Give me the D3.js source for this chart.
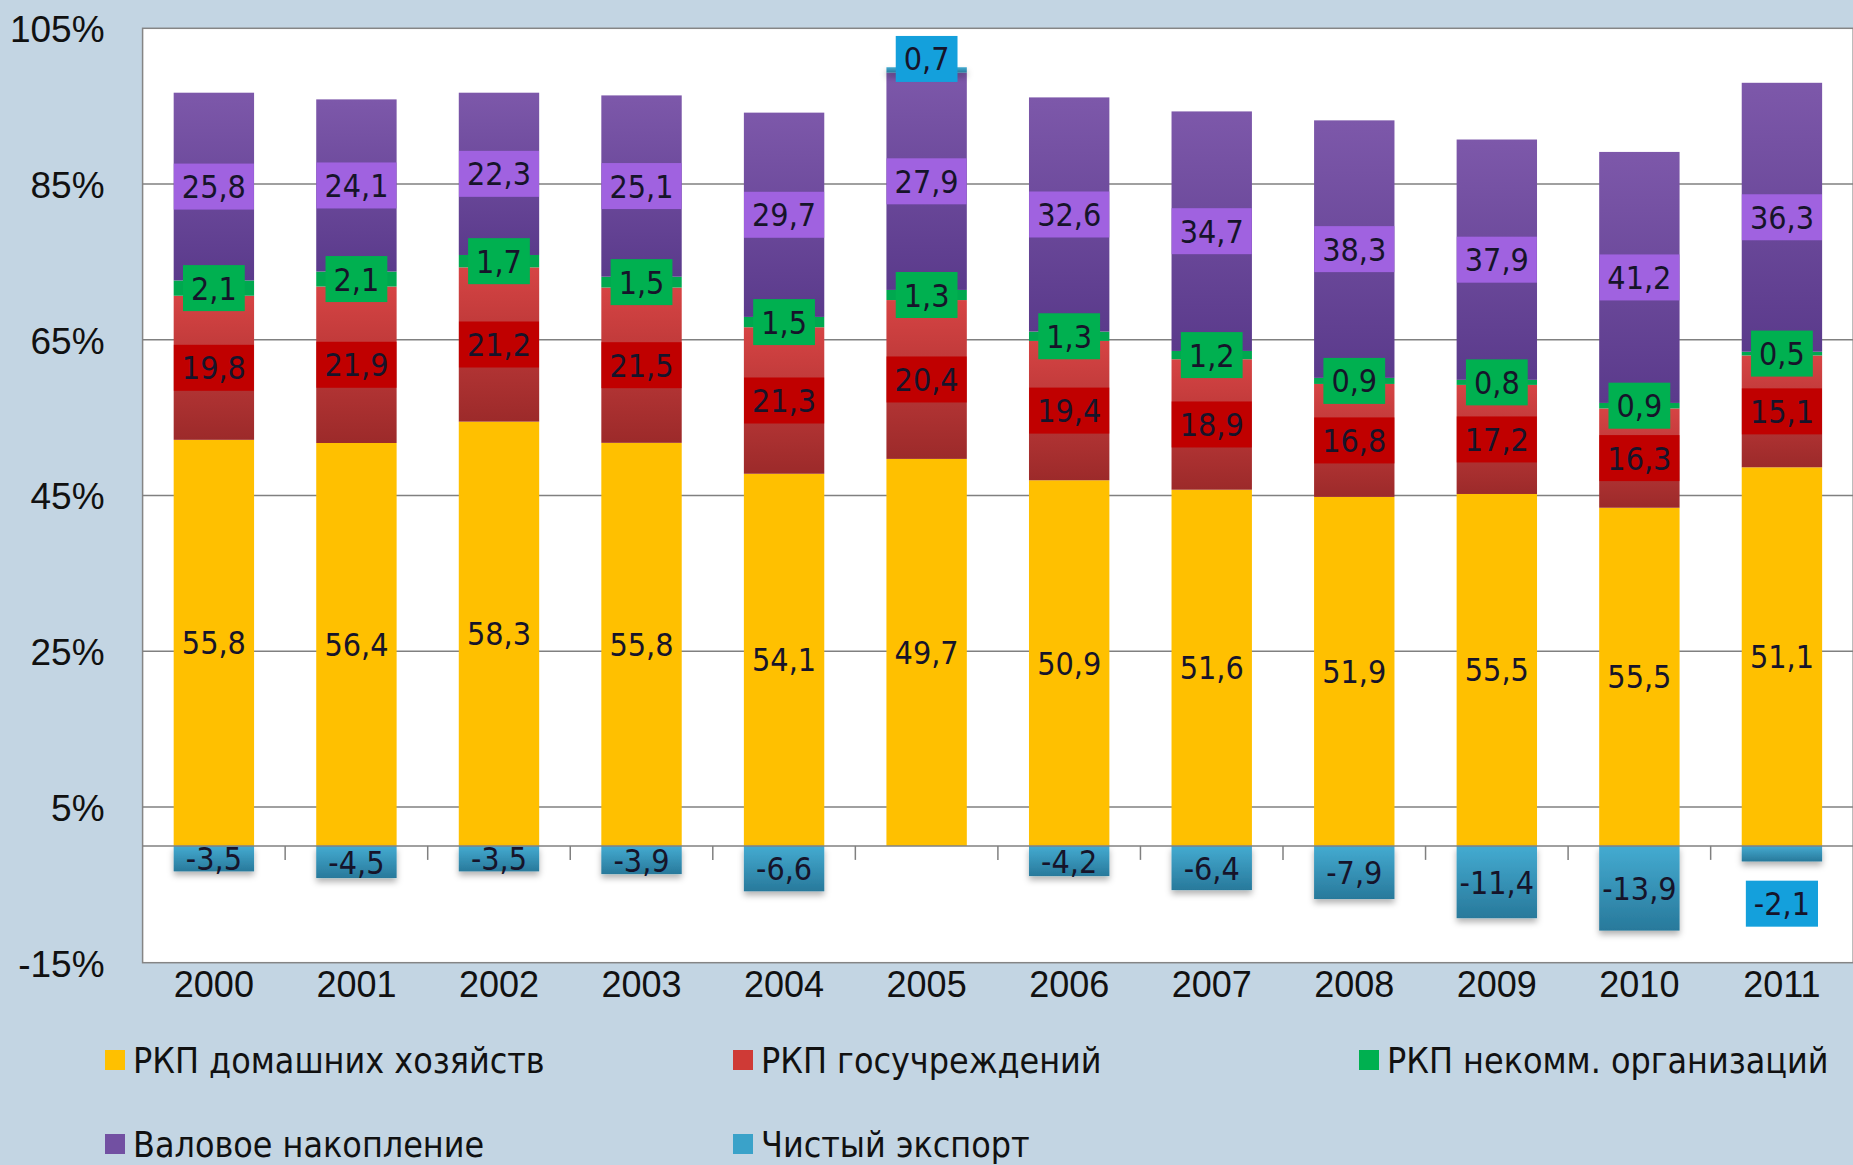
<!DOCTYPE html>
<html>
<head>
<meta charset="utf-8">
<script src="https://cdn.jsdelivr.net/npm/d3@7"></script>
<style>
  body { margin: 0; background: #c3d5e3; }
  svg { display: block; font-family: "DejaVu Sans Condensed", "DejaVu Sans", sans-serif; font-stretch: condensed; }
</style>
</head>
<body>
<svg id="chart" width="1853" height="1165"></svg>
<script>
// values as printed on the chart (% of GDP)
var years = ["2000", "2001", "2002", "2003", "2004", "2005", "2006", "2007", "2008", "2009", "2010", "2011"];
var households   = [55.8, 56.4, 58.3, 55.8, 54.1, 49.7, 50.9, 51.6, 51.9, 55.5, 55.5, 51.1];
var government   = [19.8, 21.9, 21.2, 21.5, 21.3, 20.4, 19.4, 18.9, 16.8, 17.2, 16.3, 15.1];
var nonprofit    = [2.1, 2.1, 1.7, 1.5, 1.5, 1.3, 1.3, 1.2, 0.9, 0.8, 0.9, 0.5];
var accumulation = [25.8, 24.1, 22.3, 25.1, 29.7, 27.9, 32.6, 34.7, 38.3, 37.9, 41.2, 36.3];
var netExport    = [-3.5, -4.5, -3.5, -3.9, -6.6, 0.7, -4.2, -6.4, -7.9, -11.4, -13.9, -2.1];

var seriesKeys  = ["hh", "gov", "npo", "acc", "nx"];
var seriesNames = ["РКП домашних хозяйств", "РКП госучреждений", "РКП некомм. организаций", "Валовое накопление", "Чистый экспорт"];
var yTicks = [-15, 5, 25, 45, 65, 85, 105];

var W = 1853, H = 1165;
var svg = d3.select("#chart");

var fmt = d3.formatLocale({decimal: ",", thousands: " ", grouping: [3], currency: ["", ""], minus: "-"}).format(".1f");

// excel "100% stacked" : every value is divided by the sum of absolute values of its year
var rows = years.map(function(yr, i) {
  var raw = {hh: households[i], gov: government[i], npo: nonprofit[i], acc: accumulation[i], nx: netExport[i]};
  var total = d3.sum(seriesKeys, function(k) { return Math.abs(raw[k]); });
  var share = {};
  seriesKeys.forEach(function(k) { share[k] = raw[k] / total * 100; });
  return {year: yr, raw: raw, share: share};
});

var stacked = d3.stack()
  .keys(seriesKeys)
  .value(function(d, k) { return d.share[k]; })
  .offset(d3.stackOffsetDiverging)(rows);

var plotLeft = 142.6, plotRight = 1853.2, plotTop = 28.3, plotBottom = 962.7;

var x = d3.scaleBand().domain(years).range([plotLeft, plotRight]).paddingInner(0.436).paddingOuter(0.218);
var y = d3.scaleLinear().domain([-15, 105]).range([plotBottom, plotTop]);

// gradients / shadow
var defs = svg.append("defs");
var grads = {
  hh:  ["#ffc000", "#ffc000"],
  gov: ["#d64444", "#9c2a2a"],
  npo: ["#00a84f", "#00a84f"],
  acc: ["#7d58aa", "#5a3a8b"],
  nx:  ["#44abd1", "#28799b"]
};
seriesKeys.forEach(function(k) {
  var g = defs.append("linearGradient").attr("id", "grad-" + k)
    .attr("x1", 0).attr("y1", 0).attr("x2", 0).attr("y2", 1);
  g.append("stop").attr("offset", "0%").attr("stop-color", grads[k][0]);
  g.append("stop").attr("offset", "100%").attr("stop-color", grads[k][1]);
});
defs.append("filter").attr("id", "shadow")
  .attr("x", "-20%").attr("y", "-30%").attr("width", "140%").attr("height", "180%")
  .append("feDropShadow")
    .attr("dx", 0).attr("dy", 4).attr("stdDeviation", 3)
    .attr("flood-color", "#000").attr("flood-opacity", 0.3);

// plot area
svg.append("rect")
  .attr("x", plotLeft).attr("y", plotTop)
  .attr("width", plotRight - plotLeft).attr("height", plotBottom - plotTop)
  .attr("fill", "#ffffff")
  .attr("stroke", "#858585").attr("stroke-width", 1.5);

svg.append("g").attr("class", "grid")
  .selectAll("line")
  .data(yTicks.filter(function(t) { return t > -15 && t < 105; }))
  .join("line")
    .attr("x1", plotLeft).attr("x2", plotRight)
    .attr("y1", function(d) { return y(d); }).attr("y2", function(d) { return y(d); })
    .attr("stroke", "#808080").attr("stroke-width", 1.5);

// y axis labels
var yAxis = svg.append("g")
  .attr("transform", "translate(" + plotLeft + ",0)")
  .call(d3.axisLeft(y).tickValues(yTicks).tickSize(0).tickPadding(38).tickFormat(function(d) { return d + "%"; }));
yAxis.select(".domain").remove();
yAxis.selectAll("text").attr("font-size", 37).attr("fill", "#111").attr("font-family", null).attr("dy", "0.36em");

// bars
var layers = svg.append("g").attr("class", "bars")
  .selectAll("g")
  .data(stacked)
  .join("g")
    .attr("fill", function(d) { return "url(#grad-" + d.key + ")"; })
    .attr("filter", function(d) { return d.key == "nx" ? "url(#shadow)" : null; });

layers.selectAll("rect")
  .data(function(d) { return d; })
  .join("rect")
    .attr("x", function(d) { return x(d.data.year); })
    .attr("y", function(d) { return y(Math.max(d[0], d[1])); })
    .attr("width", x.bandwidth())
    .attr("height", function(d) { return Math.abs(y(d[0]) - y(d[1])); });

// zero line with category ticks
var zeroY = y(0);
svg.append("line")
  .attr("x1", plotLeft).attr("x2", plotRight)
  .attr("y1", zeroY).attr("y2", zeroY)
  .attr("stroke", "#808080").attr("stroke-width", 1.5);
svg.append("g").selectAll("line")
  .data(years.slice(1))
  .join("line")
    .attr("x1", function(d) { return x(d) - (x.step() - x.bandwidth()) / 2; })
    .attr("x2", function(d) { return x(d) - (x.step() - x.bandwidth()) / 2; })
    .attr("y1", zeroY).attr("y2", zeroY + 14)
    .attr("stroke", "#808080").attr("stroke-width", 1.5);

// x axis labels
var xAxis = svg.append("g")
  .attr("transform", "translate(0," + plotBottom + ")")
  .call(d3.axisBottom(x).tickSize(0).tickPadding(9));
xAxis.select(".domain").remove();
xAxis.selectAll("text").attr("font-size", 36).attr("fill", "#111").attr("font-family", null);

// data labels
var boxFill = {acc: "#a062e0", gov: "#c00000", npo: "#00b050", nx: "#14a0dc"};
var labelShift = {"2005": -11, "2011": 50};   // moved net export labels

var labels = svg.append("g").attr("class", "labels");
stacked.forEach(function(layer) {
  layer.forEach(function(d) {
    var v = d.data.raw[layer.key];
    var cx = x(d.data.year) + x.bandwidth() / 2;
    var cy = y((d[0] + d[1]) / 2);
    var fill = boxFill[layer.key];
    if (layer.key == "nx") {
      if (labelShift[d.data.year] !== undefined) cy += labelShift[d.data.year];
      else fill = null;
    }
    var lg = labels.append("g").attr("transform", "translate(" + cx + "," + cy + ")");
    var box = lg.append("rect");
    var t = lg.append("text")
      .attr("text-anchor", "middle")
      .attr("dy", "0.36em")
      .attr("font-size", 32)
      .attr("fill", "#16142a")
      .text(fmt(v));
    if (fill) {
      var w = t.node().getComputedTextLength() + 16;
      box.attr("x", -w / 2).attr("y", -23).attr("width", w).attr("height", 46).attr("fill", fill);
    } else {
      box.remove();
    }
  });
});

// legend
var legendPos = [[105, 1060], [733, 1060], [1359, 1060], [105, 1144], [733, 1144]];
var legendColor = {hh: "#ffc000", gov: "#cf3a36", npo: "#00b050", acc: "#7250a2", nx: "#3aa2c9"};
var legend = svg.append("g").attr("class", "legend")
  .selectAll("g")
  .data(seriesKeys)
  .join("g")
    .attr("transform", function(d, i) { return "translate(" + legendPos[i][0] + "," + legendPos[i][1] + ")"; });
legend.append("rect")
  .attr("x", 0).attr("y", -10).attr("width", 20).attr("height", 20)
  .attr("fill", function(d) { return legendColor[d]; });
legend.append("text")
  .attr("x", 28).attr("dy", "0.36em")
  .attr("font-size", 35.5)
  .attr("fill", "#111")
  .text(function(d, i) { return seriesNames[i]; });
</script>
</body>
</html>
